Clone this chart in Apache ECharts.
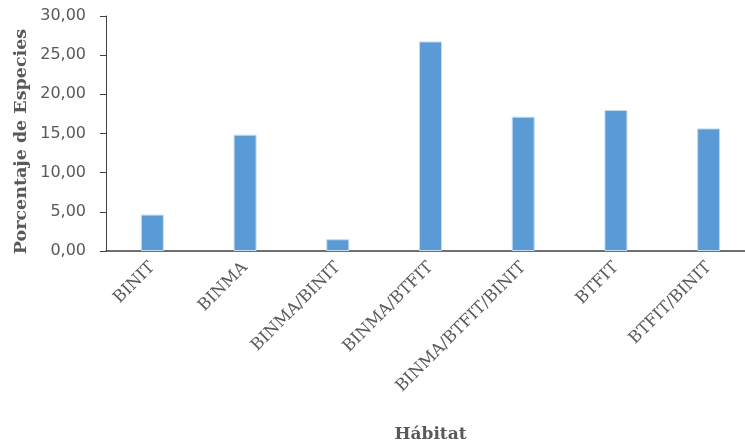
<!DOCTYPE html>
<html>
<head>
<meta charset="utf-8">
<script src="https://cdn.jsdelivr.net/npm/echarts@6/dist/echarts.min.js"></script>
<style>
  html, body { margin: 0; padding: 0; background: #ffffff; }
  #chart { width: 745px; height: 445px; }
</style>
</head>
<body>
<div id="chart"></div>
<script>
// Habitat categories and percentage of species in each
const habitats = ['BINIT', 'BINMA', 'BINMA/BINIT', 'BINMA/BTFIT', 'BINMA/BTFIT/BINIT', 'BTFIT', 'BTFIT/BINIT'];
const speciesPct = [4.65, 14.85, 1.5, 26.75, 17.15, 18.0, 15.65];

// Value axis range
const yMin = 0;
const yMax = 30;
const yStep = 5;

const serif = '"DejaVu Serif", "Liberation Serif", serif';
const grey = '#595959';

const chart = echarts.init(document.getElementById('chart'));
chart.setOption({
  animation: false,
  backgroundColor: '#ffffff',
  grid: {
    left: 106,
    top: 16,
    width: 649,
    height: 235,
    containLabel: false,
    outerBoundsMode: 'none'
  },
  xAxis: {
    type: 'category',
    data: habitats,
    name: 'Hábitat',
    nameLocation: 'middle',
    nameGap: 175,
    nameMoveOverlap: false,
    nameTextStyle: { fontFamily: serif, fontWeight: 'bold', fontSize: 17, color: grey },
    axisLine: { show: true, lineStyle: { color: '#404040', width: 1.5 } },
    axisTick: { show: false },
    axisLabel: {
      rotate: 45,
      interval: 0,
      margin: 14,
      fontFamily: serif,
      fontSize: 16.5,
      color: grey
    },
    splitLine: { show: false }
  },
  yAxis: {
    type: 'value',
    min: yMin,
    max: yMax,
    interval: yStep,
    name: 'Porcentaje de Especies',
    nameLocation: 'middle',
    nameGap: 76,
    nameMoveOverlap: false,
    nameTextStyle: { fontFamily: serif, fontWeight: 'bold', fontSize: 17.5, color: grey, padding: [0, 16, 0, 0] },
    axisLine: { show: true, lineStyle: { color: '#404040', width: 1 } },
    axisTick: { show: true, inside: false, length: 6, lineStyle: { color: '#404040' } },
    axisLabel: {
      margin: 20,
      fontFamily: '"DejaVu Sans", sans-serif',
      fontSize: 16,
      color: grey,
      formatter: v => v.toFixed(2).replace('.', ',')
    },
    splitLine: { show: false }
  },
  series: [{
    type: 'bar',
    data: speciesPct,
    barWidth: 23,
    itemStyle: { color: '#5b9bd5', borderColor: '#c4dcf2', borderWidth: 1 }
  }]
});
</script>
</body>
</html>
